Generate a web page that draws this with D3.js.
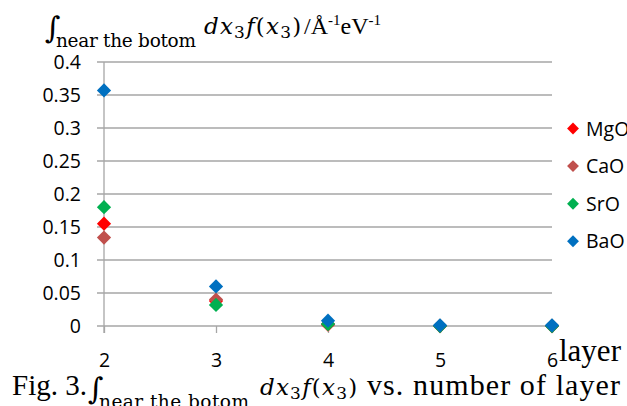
<!DOCTYPE html>
<html>
<head>
<meta charset="utf-8">
<script src="https://cdn.jsdelivr.net/npm/d3@7"></script>
<style>
  body { margin: 0; background: #fff; }
  svg { display: block; }
  .tick text { font-family: "Open Sans", "Noto Sans", sans-serif; }
</style>
</head>
<body>
<svg id="chart" width="627" height="406"></svg>
<script>
var layers = [2, 3, 4, 5, 6];
var seriesNames = ["MgO", "CaO", "SrO", "BaO"];
var seriesColors = ["#ff0000", "#c0504d", "#00b050", "#0070c0"];
var mgo = [0.155, 0.038, 0.002, 0.0, 0.0];
var cao = [0.134, 0.040, 0.003, 0.0, 0.0];
var sro = [0.180, 0.032, 0.003, 0.0, 0.0];
var bao = [0.357, 0.060, 0.008, 0.001, 0.001];
var yTicks = [0, 0.05, 0.1, 0.15, 0.2, 0.25, 0.3, 0.35, 0.4];

var svg = d3.select("#chart");

var x = d3.scaleLinear().domain([2, 6]).range([104, 552]);
var y = d3.scaleLinear().domain([0, 0.4]).range([326, 62]);

// gridlines
svg.append("g")
  .selectAll("line")
  .data(yTicks)
  .join("line")
  .attr("x1", 97).attr("x2", 552)
  .attr("y1", function(d) { return y(d); })
  .attr("y2", function(d) { return y(d); })
  .attr("stroke", "#a6a6a6")
  .attr("stroke-width", 1.3);

// y axis
var yAxis = svg.append("g")
  .attr("transform", "translate(104,0)")
  .call(d3.axisLeft(y).tickValues(yTicks).tickSize(0).tickPadding(23)
    .tickFormat(function(d) { return String(+d.toFixed(2)); }));
yAxis.select(".domain").remove();
yAxis.selectAll("text").attr("font-size", 19.5).attr("fill", "#000");
svg.append("line")
  .attr("x1", 104).attr("x2", 104)
  .attr("y1", y(0.4)).attr("y2", 333)
  .attr("stroke", "#a6a6a6").attr("stroke-width", 1.3);

// x axis
var xAxis = svg.append("g")
  .attr("transform", "translate(0," + y(0) + ")")
  .call(d3.axisBottom(x).tickValues(layers).tickSize(7).tickPadding(20)
    .tickFormat(d3.format("d")));
xAxis.select(".domain").remove();
xAxis.selectAll("line").attr("stroke", "#a6a6a6").attr("stroke-width", 1.3);
xAxis.selectAll("text").attr("font-size", 19.5).attr("fill", "#000");

// points
var allSeries = [mgo, cao, sro, bao];
var diamond = d3.symbol().type(d3.symbolDiamond2).size(130);
allSeries.forEach(function(vals, si) {
  svg.append("g")
    .selectAll("path")
    .data(vals)
    .join("path")
    .attr("d", diamond)
    .attr("transform", function(d, i) { return "translate(" + x(layers[i]) + "," + y(d) + ")"; })
    .attr("fill", seriesColors[si]);
});

// legend
var legend = svg.append("g")
  .selectAll("g")
  .data(seriesNames)
  .join("g")
  .attr("transform", function(d, i) { return "translate(573," + (128.5 + i * 37.6) + ")"; });
legend.append("path")
  .attr("d", d3.symbol().type(d3.symbolDiamond2).size(90))
  .attr("fill", function(d, i) { return seriesColors[i]; });
legend.append("text")
  .attr("x", 13).attr("y", 7)
  .attr("font-family", "'Open Sans', 'Noto Sans', sans-serif")
  .attr("font-size", 19.5)
  .text(function(d) { return d; });

// axis title "layer"
svg.append("text")
  .attr("x", 559).attr("y", 361)
  .attr("font-family", "'Liberation Serif', serif")
  .attr("font-size", 31)
  .text("layer");

// integral expressions
function integral(x0, base, subW, exprX) {
  var g = svg.append("g");
  g.append("text")
    .attr("x", x0).attr("y", base + 4)
    .attr("font-family", "'DejaVu Serif', serif")
    .attr("font-size", 30)
    .text("\u222B");
  g.append("text")
    .attr("x", x0 + 11).attr("y", base + 13)
    .attr("font-family", "'DejaVu Serif', serif")
    .attr("font-size", 18.5)
    .attr("textLength", subW)
    .text("near the botom");
  var t = g.append("text")
    .attr("x", exprX).attr("y", base)
    .attr("font-family", "'DejaVu Serif', serif")
    .attr("font-style", "italic")
    .attr("letter-spacing", 1.2)
    .attr("font-size", 23);
  t.append("tspan").text("dx");
  t.append("tspan").attr("font-size", 17).attr("font-style", "normal").attr("dy", 4).text("3");
  t.append("tspan").attr("dy", -4).text("f");
  t.append("tspan").attr("font-style", "normal").text("(");
  t.append("tspan").text("x");
  t.append("tspan").attr("font-size", 17).attr("font-style", "normal").attr("dy", 4).text("3");
  t.append("tspan").attr("dy", -4).attr("font-style", "normal").text(")");
  return t;
}

integral(45, 34, 140, 204);
var unit = svg.append("text")
  .attr("x", 304).attr("y", 34)
  .attr("font-family", "'Liberation Serif', serif")
  .attr("font-size", 24);
unit.append("tspan").text("/Å");
unit.append("tspan").attr("font-size", 15).attr("dy", -9).text("-1");
unit.append("tspan").attr("dy", 9).text("eV");
unit.append("tspan").attr("font-size", 15).attr("dy", -9).text("-1");

// caption
svg.append("text")
  .attr("x", 12).attr("y", 395)
  .attr("font-family", "'Liberation Serif', serif")
  .attr("font-size", 29)
  .text("Fig. 3.");
integral(88, 395, 150, 260);
svg.append("text")
  .attr("x", 367).attr("y", 395)
  .attr("font-family", "'Liberation Serif', serif")
  .attr("font-size", 30)
  .attr("textLength", 253)
  .text("vs. number of layer");
</script>
</body>
</html>
